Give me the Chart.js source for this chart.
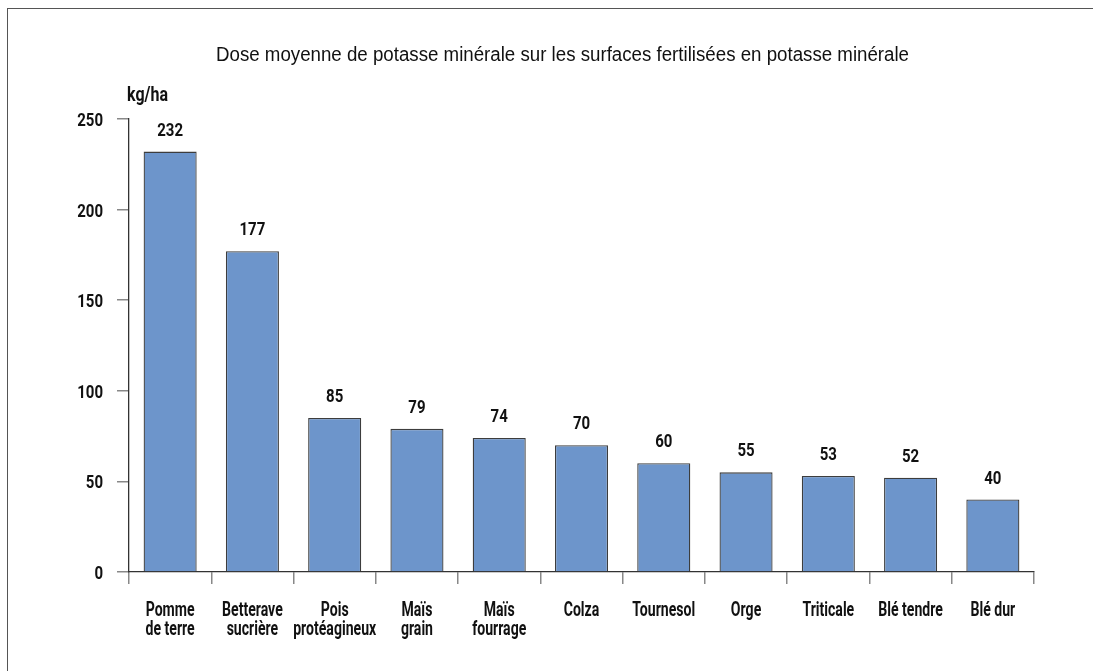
<!DOCTYPE html>
<html>
<head>
<meta charset="utf-8">
<script src="https://cdn.jsdelivr.net/npm/chart.js@4.4.1/dist/chart.umd.min.js"></script>
<style>
html,body{margin:0;padding:0;background:#fff;overflow:hidden;}
#wrap{position:relative;width:1093px;height:671px;}
</style>
</head>
<body>
<div id="wrap"><canvas id="c" width="1093" height="671"></canvas></div>
<script>
const categories = [
  ["Pomme","de terre"],
  ["Betterave","sucrière"],
  ["Pois","protéagineux"],
  ["Maïs","grain"],
  ["Maïs","fourrage"],
  "Colza",
  "Tournesol",
  "Orge",
  "Triticale",
  "Blé tendre",
  "Blé dur"
];
const doses = [232, 177, 85, 79, 74, 70, 60, 55, 53, 52, 40];
const yTicks = [0, 50, 100, 150, 200, 250];
const titleText = "Dose moyenne de potasse minérale sur les surfaces fertilisées en potasse minérale";
const unitText = "kg/ha";

const BF = "Roboto, 'DejaVu Sans', sans-serif";
const RF = "'Liberation Sans', Arial, sans-serif";
const SX = 0.67;
const SXD = 0.79;

function txt(ctx, s, x, y, font, sx, align) {
  ctx.save();
  ctx.font = font;
  ctx.translate(x, y);
  ctx.scale(sx, 1);
  ctx.textAlign = align;
  ctx.textBaseline = 'alphabetic';
  ctx.fillText(s, 0, 0);
  ctx.restore();
}

const decor = {
  id: 'decor',
  beforeDraw(chart) {
    const ctx = chart.ctx;
    ctx.save();
    ctx.fillStyle = '#fff';
    ctx.fillRect(0, 0, chart.width, chart.height);
    ctx.strokeStyle = '#555';
    ctx.lineWidth = 1;
    ctx.strokeRect(7.5, 8.5, 2000, 2000);
    ctx.restore();
  },
  afterDraw(chart) {
    const ctx = chart.ctx;
    const meta = chart.getDatasetMeta(0);
    const xs = chart.scales.x, ys = chart.scales.y;
    ctx.save();
    ctx.fillStyle = '#111';
    // title
    ctx.font = "19.5px " + RF;
    const tw = ctx.measureText(titleText).width;
    const tsx = 693 / tw;
    txt(ctx, titleText, 562.5, 61, "19.5px " + RF, tsx, 'center');
    // unit
    txt(ctx, unitText, 127, 101, "bold 20px " + BF, 0.8, 'left');
    // y tick labels
    yTicks.forEach(v => {
      txt(ctx, String(v), 103, ys.getPixelForValue(v) + 7, "bold 19px " + BF, SXD, 'right');
    });
    // x labels
    categories.forEach((c, i) => {
      const lines = Array.isArray(c) ? c : [c];
      const x = xs.getPixelForValue(i);
      lines.forEach((l, k) => {
        txt(ctx, l, x, 616 + k * 19, "bold 21px " + BF, SX, 'center');
      });
    });
    // data labels
    meta.data.forEach((bar, i) => {
      txt(ctx, String(doses[i]), bar.x, bar.y - 16, "bold 19px " + BF, SXD, 'center');
    });
    ctx.restore();
  }
};

new Chart(document.getElementById('c'), {
  type: 'bar',
  data: {
    labels: categories,
    datasets: [{
      data: doses,
      backgroundColor: '#6d95cb',
      borderColor: '#3d3d3d',
      borderWidth: 1.3,
      barPercentage: 0.645,
      categoryPercentage: 1
    }]
  },
  options: {
    responsive: false,
    animation: false,
    devicePixelRatio: 1,
    layout: { padding: { left: 0, right: 59, top: 119, bottom: 0 } },
    plugins: { legend: { display: false }, tooltip: { enabled: false }, title: { display: false } },
    scales: {
      x: {
        offset: true,
        grid: { display: true, drawOnChartArea: false, drawTicks: true, tickLength: 12, color: '#888', offset: true, lineWidth: 1.5 },
        border: { display: true, color: '#333', width: 1.3 },
        ticks: { display: false },
        afterFit(scale) { scale.height = 99; }
      },
      y: {
        min: 0, max: 250,
        afterBuildTicks(scale) { scale.ticks = yTicks.map(v => ({ value: v })); },
        grid: { display: true, drawOnChartArea: false, drawTicks: true, tickLength: 12, color: '#888', lineWidth: 1.5 },
        border: { display: true, color: '#333', width: 1.3 },
        ticks: { display: false },
        afterFit(scale) { scale.width = 129; }
      }
    }
  },
  plugins: [decor]
});
</script>
</body>
</html>
